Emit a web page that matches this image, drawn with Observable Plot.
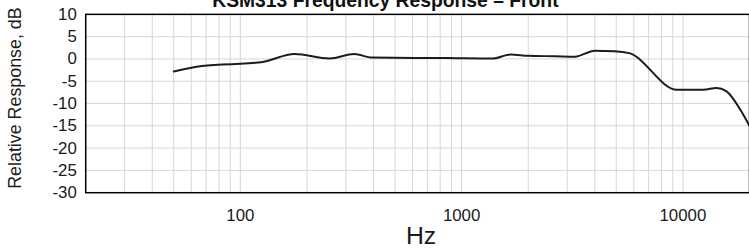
<!DOCTYPE html>
<html>
<head>
<meta charset="utf-8">
<script src="https://cdn.jsdelivr.net/npm/d3@7"></script>
<script src="https://cdn.jsdelivr.net/npm/@observablehq/plot@0.6"></script>
<style>
  html, body { margin: 0; padding: 0; background: #fff; overflow: hidden; }
  #chart { width: 749px; height: 251px; overflow: hidden; position: relative; }
  svg { font-family: "Liberation Sans", Arial, sans-serif; }
</style>
</head>
<body>
<div id="chart"></div>
<script>
const title = "KSM313 Frequency Response – Front";
const xLabel = "Hz";
const yLabel = "Relative Response, dB";

const freqHz = [50, 67, 124, 176, 253, 327, 394, 850, 1384, 1664, 2003, 2650, 3250, 4000, 4900, 5730, 9400, 12400, 14200, 15700, 18500, 20000];
const responseDb = [-2.8, -1.6, -0.75, 1.1, 0.1, 1.1, 0.3, 0.2, 0.1, 1.0, 0.7, 0.6, 0.5, 1.85, 1.75, 1.3, -6.9, -6.9, -6.5, -7.2, -12.0, -15];

const xTicks = [100, 1000, 10000];
const yTicks = [-30, -25, -20, -15, -10, -5, 0, 5, 10];
const xGrid = [30, 40, 50, 60, 70, 80, 90, 100, 200, 300, 400, 500, 600, 700, 800, 900,
               1000, 2000, 3000, 4000, 5000, 6000, 7000, 8000, 9000, 10000];

const data = freqHz.map((f, i) => ({f, db: responseDb[i]}));

const svg = Plot.plot({
  width: 756,
  height: 251,
  marginLeft: 86,
  marginRight: 0,
  marginTop: 14,
  marginBottom: 57,
  style: {fontFamily: "'Liberation Sans', Arial, sans-serif", fontSize: "17px", color: "#1a1a1a", background: "#fff"},
  x: {type: "log", domain: [20, 20000]},
  y: {domain: [-30, 10]},
  marks: [
    Plot.ruleX(xGrid, {stroke: "#d6d6d6", strokeWidth: 1}),
    Plot.ruleY(yTicks, {stroke: "#d6d6d6", strokeWidth: 1}),
    Plot.axisX(xTicks, {tickSize: 0, tickPadding: 16, tickFormat: d => String(d), label: null, fontSize: 17}),
    Plot.axisY(yTicks, {tickSize: 0, tickPadding: 9, tickFormat: d => String(d), label: null, fontSize: 17}),
    Plot.line(data, {x: "f", y: "db", stroke: "#1c1c1c", strokeWidth: 2, curve: "monotone-x"}),
    Plot.frame({stroke: "#000", strokeWidth: 1.5})
  ]
});

const s = d3.select(svg);
s.append("text")
  .attr("x", 389).attr("y", 7)
  .attr("text-anchor", "middle")
  .attr("font-weight", "bold")
  .attr("font-size", "19.5px")
  .attr("fill", "#111")
  .text(title);
s.append("text")
  .attr("x", 425).attr("y", 246)
  .attr("text-anchor", "middle")
  .attr("font-size", "25px")
  .attr("fill", "#1a1a1a")
  .text(xLabel);
s.append("text")
  .attr("transform", "translate(21,99) rotate(-90)")
  .attr("text-anchor", "middle")
  .attr("font-size", "18px")
  .attr("fill", "#1a1a1a")
  .text(yLabel);

document.getElementById("chart").appendChild(svg);
</script>
</body>
</html>
